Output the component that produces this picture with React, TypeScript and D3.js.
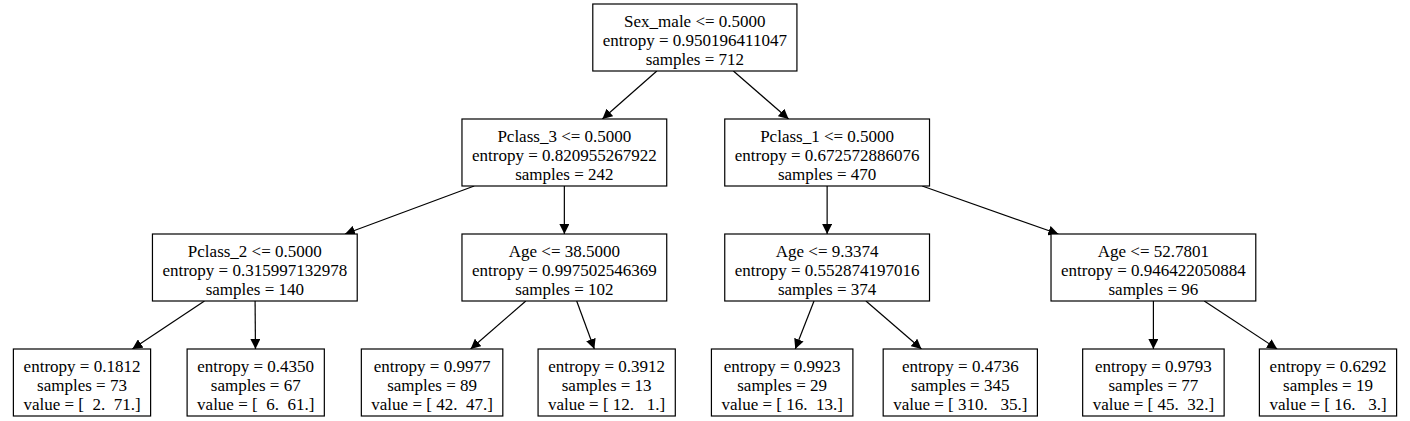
import React from 'react';
import * as d3 from 'd3';

// node labels, parent index, layout column and depth
const labels: string[][] = [
  ['Sex_male <= 0.5000', 'entropy = 0.950196411047', 'samples = 712'],
  ['Pclass_3 <= 0.5000', 'entropy = 0.820955267922', 'samples = 242'],
  ['Pclass_1 <= 0.5000', 'entropy = 0.672572886076', 'samples = 470'],
  ['Pclass_2 <= 0.5000', 'entropy = 0.315997132978', 'samples = 140'],
  ['Age <= 38.5000', 'entropy = 0.997502546369', 'samples = 102'],
  ['Age <= 9.3374', 'entropy = 0.552874197016', 'samples = 374'],
  ['Age <= 52.7801', 'entropy = 0.946422050884', 'samples = 96'],
  ['entropy = 0.1812', 'samples = 73', 'value = [  2.  71.]'],
  ['entropy = 0.4350', 'samples = 67', 'value = [  6.  61.]'],
  ['entropy = 0.9977', 'samples = 89', 'value = [ 42.  47.]'],
  ['entropy = 0.3912', 'samples = 13', 'value = [ 12.   1.]'],
  ['entropy = 0.9923', 'samples = 29', 'value = [ 16.  13.]'],
  ['entropy = 0.4736', 'samples = 345', 'value = [ 310.   35.]'],
  ['entropy = 0.9793', 'samples = 77', 'value = [ 45.  32.]'],
  ['entropy = 0.6292', 'samples = 19', 'value = [ 16.   3.]'],
];
const parents = [-1, 0, 0, 1, 1, 2, 2, 3, 3, 4, 4, 5, 5, 6, 6];
const depths = [0, 1, 1, 2, 2, 2, 2, 3, 3, 3, 3, 3, 3, 3, 3];
const columns = [6.95, 5.47, 8.45, 1.96, 5.47, 8.45, 12.15, 0, 1.97, 3.97, 5.95, 7.94, 9.96, 12.15, 14.13];

const FAMILY = 'Liberation Serif';
const SIZE = 17;
const ctx = document.createElement('canvas').getContext('2d')!;
ctx.font = `${SIZE}px "${FAMILY}"`;

export default function App() {
  const x = d3.scaleLinear().domain([0, 14.13]).range([82, 1328]);
  const y = d3.scaleLinear().domain([0, 3]).range([37.5, 382.5]);
  const boxH = 67;
  const nodes = labels.map((l, i) => {
    const w = Math.max(...l.map(s => ctx.measureText(s).width)) + 20;
    return { i, l, cx: x(columns[i]), cy: y(depths[i]), w, h: boxH };
  });
  const edges = nodes.filter(n => parents[n.i] >= 0).map(c => {
    const p = nodes[parents[c.i]];
    const dx = c.cx - p.cx, dy = c.cy - p.cy;
    const t0 = (p.h / 2) / dy;
    const t1 = 1 - (c.h / 2) / dy;
    return { x1: p.cx + dx * t0, y1: p.cy + dy * t0, x2: p.cx + dx * t1, y2: p.cy + dy * t1, k: c.i };
  });
  return (
    <svg width={1410} height={421} style={{ position: 'absolute', left: 0, top: 0, background: '#fff' }}>
      <defs>
        <marker id="arr" viewBox="0 0 10 10" refX={10} refY={5} markerWidth={10} markerHeight={10} markerUnits="userSpaceOnUse" orient="auto">
          <path d="M0,0 L10,5 L0,10 z" fill="#000" />
        </marker>
      </defs>
      {edges.map(e => (
        <line key={e.k} x1={e.x1} y1={e.y1} x2={e.x2} y2={e.y2} stroke="#000" strokeWidth={1.2} markerEnd="url(#arr)" />
      ))}
      {nodes.map(n => (
        <g key={n.i}>
          <rect x={n.cx - n.w / 2} y={n.cy - n.h / 2} width={n.w} height={n.h} fill="#fff" stroke="#000" strokeWidth={1.2} />
          {n.l.map((s, j) => (
            <text key={j} x={n.cx} y={n.cy - 11 + j * 19} textAnchor="middle" fontFamily={FAMILY} fontSize={SIZE} style={{ whiteSpace: 'pre' }} fill="#000">{s}</text>
          ))}
        </g>
      ))}
    </svg>
  );
}
